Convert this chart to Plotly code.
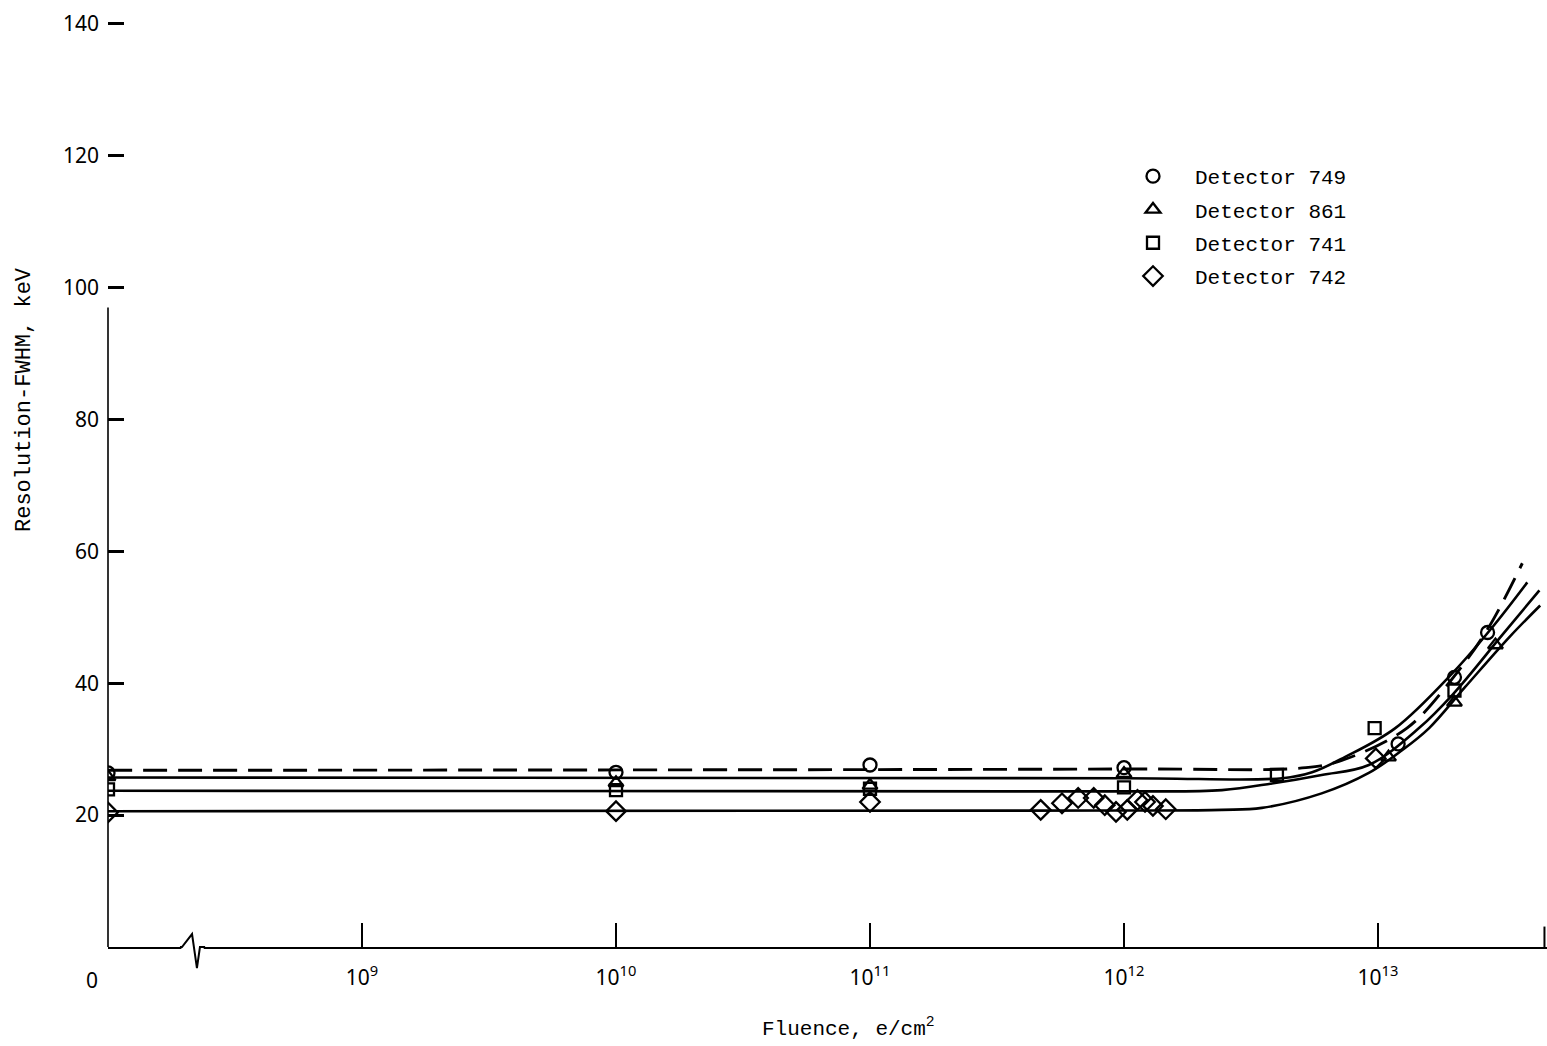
import numpy as np
import plotly.graph_objects as go

# ---------------- data (fluence in e/cm^2, resolution FWHM in keV) ----------------
# measured points ("0" fluence sits at the broken origin of the axis)
fluence_749 = [0, 1e10, 1e11, 1e12, 1.2e13, 2.0e13, 2.7e13]
res_749 = [26.4, 26.5, 27.6, 27.2, 30.8, 40.9, 47.7]

fluence_861 = [0, 1e10, 1e11, 1e12, 1.1e13, 2.0e13, 2.9e13]
res_861 = [25.8, 24.9, 24.5, 26.3, 28.8, 37.1, 45.8]

fluence_741 = [0, 1e10, 1e11, 1e12, 4.0e12, 9.7e12, 2.0e13]
res_741 = [23.9, 23.8, 24.0, 24.2, 26.1, 33.2, 38.9]

fluence_742 = [0, 1e10, 1e11, 4.7e11, 5.7e11, 6.6e11, 7.6e11, 8.4e11, 9.3e11,
               1.03e12, 1.13e12, 1.21e12, 1.3e12, 1.46e12, 9.8e12]
res_742 = [20.4, 20.6, 22.0, 20.8, 21.8, 22.6, 22.6, 21.5, 20.5,
           20.8, 22.3, 22.0, 21.4, 20.9, 28.6]

# faired curves
curve_749_x = [0, 1e12, 5.2e12, 7.2e12, 1.3e13, 1.98e13, 2.71e13, 3.7e13]
curve_749_y = [26.8, 27.0, 27.2, 28.3, 33.2, 40.9, 48.3, 58.2]

curve_861_x = [0, 1e12, 4.2e12, 5.5e12, 7.4e12, 1.17e13, 1.96e13, 2.82e13, 3.87e13]
curve_861_y = [25.7, 25.6, 25.6, 26.5, 28.8, 33.2, 41.5, 48.5, 55.3]

curve_741_x = [0, 1e12, 2.43e12, 3.82e12, 6.0e12, 9.2e12, 1.45e13, 1.98e13, 3.08e13, 4.32e13]
curve_741_y = [23.7, 23.6, 23.8, 24.8, 26.1, 27.6, 33.2, 38.4, 47.3, 54.1]

curve_742_x = [0, 1e12, 2.43e12, 3.49e12, 6.0e12, 9.2e12, 1.24e13, 1.59e13, 2.2e13, 3.29e13, 4.35e13]
curve_742_y = [20.6, 20.7, 20.8, 21.1, 23.3, 26.4, 29.8, 33.2, 39.4, 47.0, 51.8]

x_tick_exponents = [9, 10, 11, 12, 13]
y_tick_values = [20, 40, 60, 80, 100, 120, 140]

AXIS_ZERO_EXP = 8  # the broken axis places fluence 0 one decade below 10^9


def pos(fluence):
    f = np.asarray(fluence, dtype=float)
    out = np.full(f.shape, float(AXIS_ZERO_EXP))
    nz = f > 0
    out[nz] = np.log10(f[nz])
    return out


MONO = "Liberation Mono"
SANS = "Noto Sans"
BLACK = "#000000"

fig = go.Figure()

# curves
curves = [
    (curve_749_x, curve_749_y, "24px,11px", 2.9),
    (curve_861_x, curve_861_y, "solid", 2.6),
    (curve_741_x, curve_741_y, "solid", 2.6),
    (curve_742_x, curve_742_y, "solid", 2.6),
]
for cx, cy, dash, w in curves:
    fig.add_trace(go.Scatter(
        x=pos(cx), y=cy, mode="lines", showlegend=False, hoverinfo="skip",
        line=dict(color=BLACK, width=w, dash=dash, shape="spline", smoothing=1.0),
    ))

series = [
    ("Detector 749", fluence_749, res_749, "circle-open", 13),
    ("Detector 861", fluence_861, res_861, "triangle-up-open", 13),
    ("Detector 741", fluence_741, res_741, "square-open", 12),
    ("Detector 742", fluence_742, res_742, "diamond-open", 15),
]
for name, fx, ry, sym, size in series:
    fig.add_trace(go.Scatter(
        x=pos(fx), y=ry, mode="markers", name=name, legendgroup=name, cliponaxis=True,
        marker=dict(symbol=sym, size=size, color=BLACK, line=dict(color=BLACK, width=2.3)),
    ))

X_RANGE = [8, 8 + 1439 / 254.0]
Y_RANGE = [0, 946.8 / 6.592]

fig.update_layout(
    width=1547, height=1046,
    margin=dict(l=108, r=0, t=0, b=99),
    paper_bgcolor="white", plot_bgcolor="white",
    font=dict(family=SANS, color=BLACK, size=21),
    showlegend=True,
    legend=dict(
        x=(1111 - 108) / 1439, y=(947 - 156) / 947, xanchor="left", yanchor="top",
        font=dict(family=MONO, size=21, color=BLACK),
        bgcolor="rgba(0,0,0,0)", borderwidth=0, itemwidth=74, tracegroupgap=3,
    ),
    xaxis=dict(
        range=X_RANGE, showgrid=False, zeroline=False,
        showline=True, linecolor=BLACK, linewidth=2.2,
        tickmode="array", tickvals=x_tick_exponents,
        ticktext=[f"10<sup>{e}</sup>" for e in x_tick_exponents],
        ticks="inside", ticklen=24, tickwidth=2, tickcolor=BLACK,
        tickfont=dict(family=SANS, size=21, color=BLACK),
        ticklabelstandoff=11,
    ),
    yaxis=dict(
        range=Y_RANGE, showgrid=False, zeroline=False, showline=False,
        tickmode="array", tickvals=y_tick_values,
        ticktext=[str(v) for v in y_tick_values],
        ticks="inside", ticklen=16, tickwidth=2.5, tickcolor=BLACK,
        tickfont=dict(family=SANS, size=21, color=BLACK),
        ticklabelstandoff=8,
    ),
)

# y-axis line (stops below the 100 mark as in the original)
fig.add_shape(type="line", xref="paper", yref="y", x0=0, x1=0, y0=0, y1=97,
              line=dict(color=BLACK, width=1.6))
# right end mark of x axis
fig.add_shape(type="line", xref="x", yref="y", x0=X_RANGE[1] - 0.01, x1=X_RANGE[1] - 0.01,
              y0=0, y1=3.1, line=dict(color=BLACK, width=2))
# axis break symbol
fig.add_shape(type="rect", xref="paper", yref="paper", x0=0.0510, x1=0.0665,
              y0=-0.004, y1=0.003, fillcolor="white", line=dict(width=0), layer="above")
fig.add_shape(type="path", xref="paper", yref="paper", layer="above",
              path="M 0.0500 0 L 0.0514 0 L 0.0584 0.0137 L 0.0618 -0.0222 L 0.0639 0.0 L 0.0675 0",
              line=dict(color=BLACK, width=2))

# texts
fig.add_annotation(text="0", xref="paper", yref="paper", x=(92 - 108) / 1439, y=(947 - 980) / 947,
                   showarrow=False, xanchor="center", yanchor="middle",
                   font=dict(family=SANS, size=21, color=BLACK))
fig.add_annotation(text="Fluence, e/cm<sup>2</sup>", xref="paper", yref="paper",
                   x=(848 - 108) / 1439, y=(947 - 1027) / 947, showarrow=False,
                   xanchor="center", yanchor="middle", font=dict(family=MONO, size=21, color=BLACK))
fig.add_annotation(text="Resolution-FWHM, keV", xref="paper", yref="paper",
                   x=(24 - 108) / 1439, y=(947 - 400) / 947, showarrow=False, textangle=-90,
                   xanchor="center", yanchor="middle", font=dict(family=MONO, size=22, color=BLACK))

fig.write_html("out.html")
